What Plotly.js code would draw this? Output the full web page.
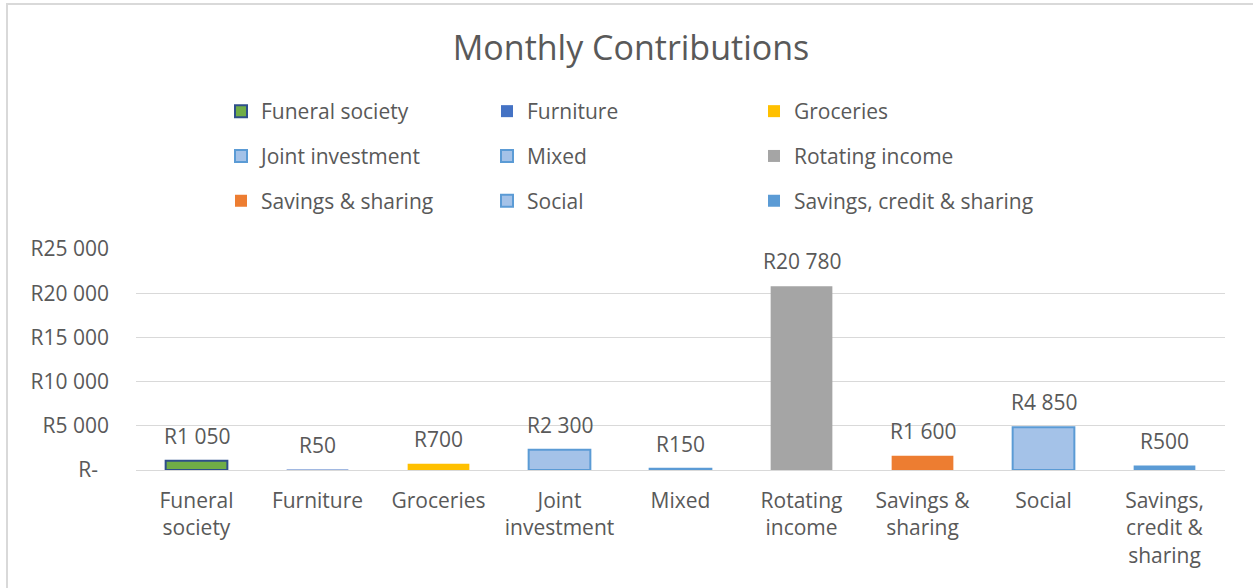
<!DOCTYPE html>
<html>
<head>
<meta charset="utf-8">
<script src="https://cdn.plot.ly/plotly-3.0.1.min.js"></script>
<style>
  html, body { margin: 0; padding: 0; background: #fff; }
  #wrap { position: relative; width: 1253px; height: 588px; overflow: hidden; }
  #chart { width: 1253px; height: 588px; }
  #frame { position: absolute; left: 6px; top: 3px; width: 1260px; height: 600px;
           border: 2px solid #d9d9d9; box-sizing: border-box; pointer-events: none; }
</style>
</head>
<body>
<div id="wrap"><div id="chart"></div><div id="frame"></div></div>
<script>
// ---- data ----
const categories = ["Funeral society", "Furniture", "Groceries", "Joint investment", "Mixed",
                    "Rotating income", "Savings & sharing", "Social", "Savings, credit & sharing"];
const tickLabels = ["Funeral<br>society", "Furniture", "Groceries", "Joint<br>investment", "Mixed",
                    "Rotating<br>income", "Savings &<br>sharing", "Social", "Savings,<br>credit &<br>sharing"];
const values = [1050, 50, 700, 2300, 150, 20780, 1600, 4850, 500];
const yTickVals = [0, 5000, 10000, 15000, 20000, 25000];
const yTickText = ["R-\u00a0\u00a0", "R5 000", "R10 000", "R15 000", "R20 000", "R25 000"];

// ---- styles ----
const fills = ["#70ad47", "#4472c4", "#ffc000", "#a4c2e8", "#a4c2e8", "#a5a5a5", "#ed7d31", "#a4c2e8", "#5b9bd5"];
const lines = ["#2f4f8a", "#4472c4", "#ffc000", "#5b9bd5", "#5b9bd5", "#a5a5a5", "#ed7d31", "#5b9bd5", "#5b9bd5"];
const lineW = [2, 0, 0, 2, 2, 0, 0, 2, 0];
// legend laid out as three columns
const legendIds = ["legend", "legend2", "legend3", "legend", "legend2", "legend3", "legend", "legend2", "legend3"];

const FONT = "Open Sans, sans-serif";
const GREY = "#595959";
const FS = 21;

function fmt(v) {
  return "R" + String(v).replace(/\B(?=(\d{3})+(?!\d))/g, " ");
}

const traces = categories.map((c, i) => ({
  type: "bar",
  name: c,
  x: [tickLabels[i]],
  y: [values[i]],
  width: 0.51,
  marker: { color: fills[i], line: { color: lines[i], width: lineW[i] } },
  legend: legendIds[i],
  legendgroup: "g" + i,
  hoverinfo: "skip"
}));

const annotations = categories.map((c, i) => ({
  x: tickLabels[i], y: values[i], xref: "x", yref: "y",
  text: fmt(values[i]), showarrow: false, yanchor: "middle", yshift: 25,
  font: { family: FONT, size: FS, color: GREY }
}));

const legendCol = (xPix) => ({
  orientation: "v",
  xref: "container", yref: "container",
  x: xPix / 1253, xanchor: "left",
  y: 1 - 91 / 588, yanchor: "top",
  tracegroupgap: 14.5,
  font: { family: FONT, size: FS, color: GREY },
  bgcolor: "rgba(0,0,0,0)", borderwidth: 0
});

const layout = {
  width: 1253, height: 588,
  margin: { l: 136, r: 28, t: 249, b: 118, autoexpand: false },
  paper_bgcolor: "#ffffff", plot_bgcolor: "#ffffff",
  font: { family: FONT, color: GREY },
  title: {
    text: "Monthly Contributions",
    font: { family: FONT, size: 34, color: GREY },
    xref: "container", x: 631 / 1253, xanchor: "center",
    yref: "container", y: 1 - 48 / 588, yanchor: "middle"
  },
  barmode: "relative",
  showlegend: true,
  legend: legendCol(221),
  legend2: legendCol(487),
  legend3: legendCol(754),
  xaxis: {
    type: "category",
    categoryorder: "array", categoryarray: tickLabels,
    showgrid: false, showline: false, zeroline: false, ticks: "",
    tickfont: { family: FONT, size: FS, color: GREY },
    ticklabelstandoff: 16
  },
  yaxis: {
    range: [0, 25000],
    tickmode: "array", tickvals: yTickVals, ticktext: yTickText,
    showgrid: true, gridcolor: "#d9d9d9", gridwidth: 1,
    zeroline: true, zerolinecolor: "#d9d9d9", zerolinewidth: 1,
    showline: false, ticks: "",
    tickfont: { family: FONT, size: FS, color: GREY },
    ticklabelstandoff: 26
  },
  annotations: annotations
};

Plotly.newPlot("chart", traces, layout, { displayModeBar: false, staticPlot: true });
</script>
</body>
</html>
